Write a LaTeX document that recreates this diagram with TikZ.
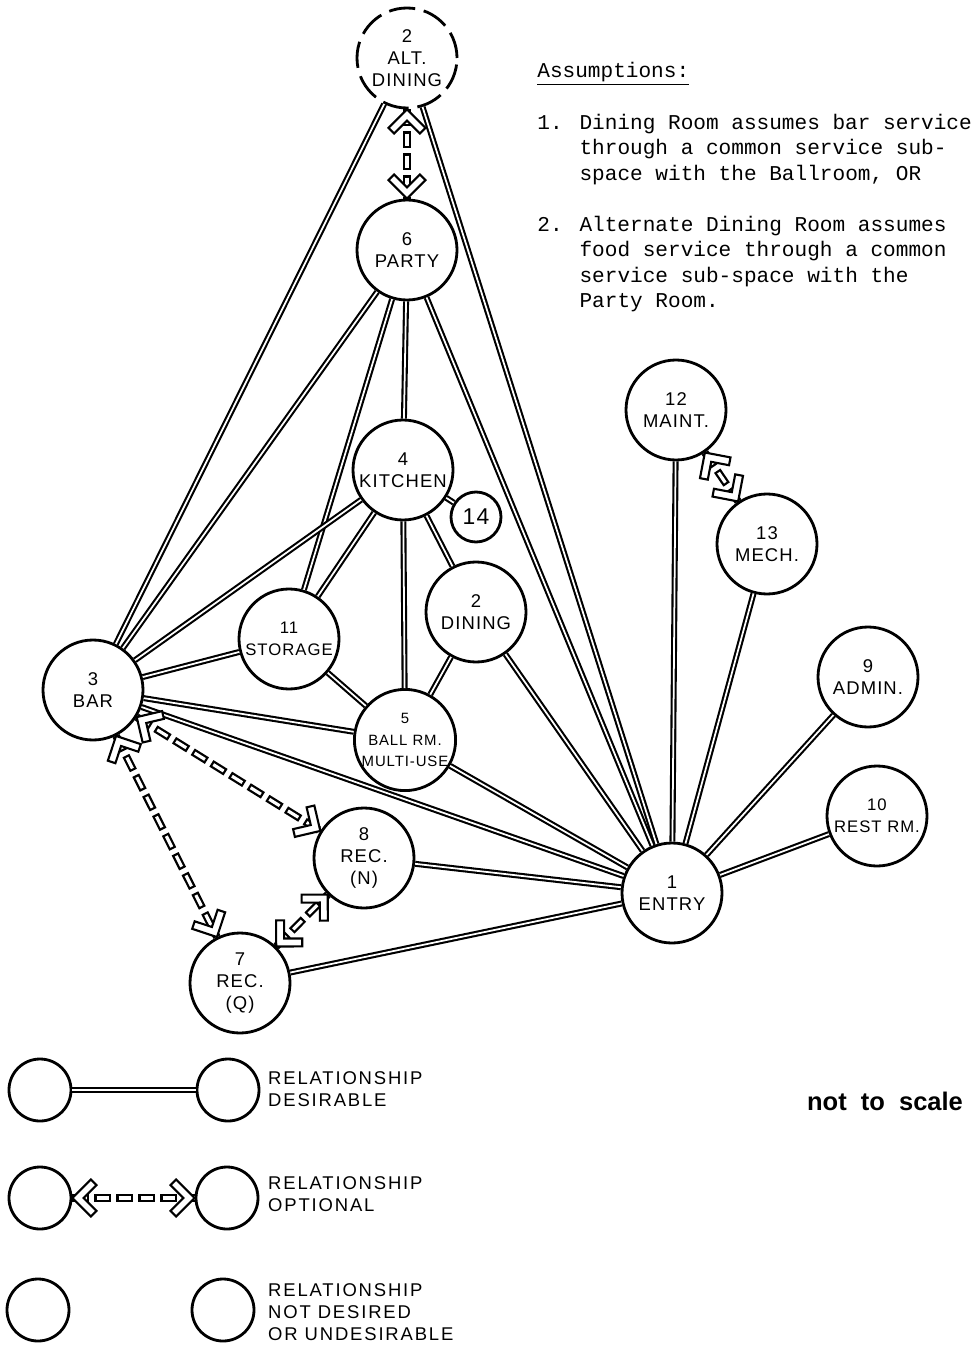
\documentclass[tikz,border=0pt]{standalone}
\usepackage{fontspec}
\setmainfont{Liberation Sans}
\newfontfamily\handfont[LetterSpace=6]{Liberation Sans}
\newfontfamily\legfont[LetterSpace=10]{Liberation Sans}
\newfontfamily\typefont{Liberation Mono}
\usetikzlibrary{decorations.markings}

\begin{document}
\begin{tikzpicture}[
  x=0.2mm, y=-0.2mm,
  font=\handfont\fontsize{10.5}{12.5}\selectfont,
  room/.style={circle, draw, line width=1.6pt, fill=white, minimum size=2cm, inner sep=0pt, align=center},
  altroom/.style={room, dash pattern=on 15pt off 5pt},
  key/.style={circle, draw, line width=1.6pt, minimum size=1.24cm},
  des/.style={double, line width=1.2pt, double distance=1pt},
  chev/.style={solid, draw, fill=white, line width=1.2pt, line join=miter},
  opt/.style={line width=4.4pt, dash pattern=on 9.5pt off 3pt,
    postaction={draw=white, line width=1.8pt, dash pattern=on 6.9pt off 5.6pt, dash phase=11.2pt},
    postaction={decorate, decoration={markings,
      mark=at position 0 with {\draw[chev] (0pt,0pt) -- (10.5pt,10.5pt) -- (13.7pt,7.3pt) -- (6.4pt,0pt) -- (13.7pt,-7.3pt) -- (10.5pt,-10.5pt) -- cycle;},
      mark=at position 1 with {\draw[chev] (0pt,0pt) -- (-10.5pt,10.5pt) -- (-13.7pt,7.3pt) -- (-6.4pt,0pt) -- (-13.7pt,-7.3pt) -- (-10.5pt,-10.5pt) -- cycle;}}}},
  note/.style={anchor=north west, inner sep=0pt, align=left, font=\typefont\fontsize{12}{14.4}\selectfont},
  legend/.style={anchor=west, align=left, font=\legfont\fontsize{10.5}{12.5}\selectfont}
]
  \useasboundingbox (0,0) rectangle (972,1346);

  \node[altroom] (alt) at (407,58) {2\\ALT.\\DINING};
  \node[room] (party) at (407,250) {6\\PARTY};
  \node[room] (kit) at (403,470) {4\\KITCHEN};
  \node[room, minimum size=1cm, font=\handfont\fontsize{13}{14}\selectfont] (n14) at (476,517) {14};
  \node[room, font=\handfont\fontsize{9.5}{12.5}\selectfont] (stor) at (289,639) {11\\STORAGE};
  \node[room] (din) at (476,612) {2\\DINING};
  \node[room, font=\handfont\fontsize{8.5}{12}\selectfont] (ball) at (405,740) {5\\BALL RM.\\MULTI-USE};
  \node[room] (bar) at (93,690) {3\\BAR};
  \node[room] (recn) at (364,858) {8\\REC.\\(N)};
  \node[room] (recq) at (240,983) {7\\REC.\\(Q)};
  \node[room] (entry) at (672,893) {1\\ENTRY};
  \node[room] (maint) at (676,410) {12\\MAINT.};
  \node[room] (mech) at (767,544) {13\\MECH.};
  \node[room] (admin) at (868,677) {9\\ADMIN.};
  \node[room, font=\handfont\fontsize{9.5}{12.5}\selectfont] (rest) at (877,816) {10\\REST RM.};

  \draw[des] (alt) -- (bar);
  \draw[des] (alt) -- (entry);
  \draw[des] (party) -- (bar);
  \draw[des] (party) -- (stor);
  \draw[des] (party) -- (kit);
  \draw[des] (party) -- (entry);
  \draw[des] (kit) -- (bar);
  \draw[des] (kit) -- (stor);
  \draw[des] (kit) -- (ball);
  \draw[des] (kit) -- (n14);
  \draw[des] (kit) -- (din);
  \draw[des] (stor) -- (bar);
  \draw[des] (stor) -- (ball);
  \draw[des] (din) -- (ball);
  \draw[des] (din) -- (entry);
  \draw[des] (ball) -- (bar);
  \draw[des] (ball) -- (entry);
  \draw[des] (bar) -- (entry);
  \draw[des] (recn) -- (entry);
  \draw[des] (recq) -- (entry);
  \draw[des] (maint) -- (entry);
  \draw[des] (mech) -- (entry);
  \draw[des] (admin) -- (entry);
  \draw[des] (rest) -- (entry);

  \draw[opt] (alt) -- (party);
  \draw[opt] (bar) -- (recn);
  \draw[opt] (bar) -- (recq);
  \draw[opt] (recq) -- (recn);
  \draw[opt] (maint) -- (mech);

  \node[note] (head) at (537,62) {\underline{Assumptions:}};
  \node[note] (ass1) at (537,114) {1. Dining Room assumes bar service\\\phantom{1. }through a common service sub-\\\phantom{1. }space with the Ballroom, OR};
  \node[note] (ass2) at (537,216) {2. Alternate Dining Room assumes\\\phantom{2. }food service through a common\\\phantom{2. }service sub-space with the\\\phantom{2. }Party Room.};

  \node[font=\normalfont\bfseries\fontsize{14.5}{16}\selectfont] (scale) at (885,1101) {not~~to~~scale};

  \node[key] (k1) at (40,1090) {};
  \node[key] (k2) at (228,1090) {};
  \draw[des] (k1) -- (k2);
  \node[legend] (t1) at (262,1089) {RELATIONSHIP\\DESIRABLE};
  \node[key] (k3) at (40,1198) {};
  \node[key] (k4) at (227,1198) {};
  \draw[opt] (k3) -- (k4);
  \node[legend] (t2) at (262,1194) {RELATIONSHIP\\OPTIONAL};
  \node[key] (k5) at (38,1310) {};
  \node[key] (k6) at (223,1310) {};
  \node[legend] (t3) at (262,1312) {RELATIONSHIP\\NOT DESIRED\\OR UNDESIRABLE};
\end{tikzpicture}
\end{document}
